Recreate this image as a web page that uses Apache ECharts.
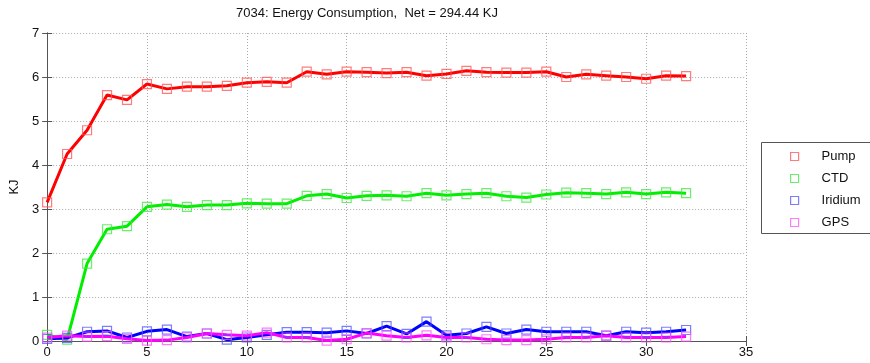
<!DOCTYPE html>
<html>
<head>
<meta charset="utf-8">
<script src="https://cdn.jsdelivr.net/npm/echarts@6/dist/echarts.min.js"></script>
<style>html,body{margin:0;padding:0;background:#fff;}#c{width:870px;height:363px;}</style>
</head>
<body>
<div id="c"></div>
<script>
const xValues = [0,1,2,3,4,5,6,7,8,9,10,11,12,13,14,15,16,17,18,19,20,21,22,23,24,25,26,27,28,29,30,31,32];
const pump = [3.15,4.25,4.79,5.59,5.48,5.84,5.73,5.78,5.78,5.80,5.87,5.89,5.87,6.12,6.06,6.12,6.11,6.09,6.11,6.03,6.07,6.14,6.11,6.10,6.10,6.12,6.00,6.06,6.03,6.00,5.96,6.03,6.02];
const ctd = [0.14,0.03,1.76,2.54,2.61,3.05,3.10,3.05,3.09,3.09,3.13,3.12,3.12,3.30,3.34,3.25,3.30,3.31,3.29,3.36,3.31,3.34,3.36,3.29,3.26,3.33,3.37,3.36,3.34,3.38,3.34,3.38,3.36];
const iridium = [0.05,0.07,0.21,0.23,0.08,0.22,0.26,0.10,0.17,0.03,0.08,0.14,0.20,0.20,0.19,0.23,0.17,0.34,0.16,0.44,0.13,0.17,0.32,0.17,0.26,0.21,0.21,0.21,0.12,0.21,0.19,0.21,0.25];
const gps = [0.08,0.12,0.10,0.11,0.05,0.01,0.02,0.08,0.17,0.14,0.12,0.19,0.08,0.08,0.01,0.04,0.18,0.12,0.08,0.13,0.08,0.08,0.04,0.02,0.02,0.04,0.08,0.08,0.12,0.08,0.08,0.08,0.10];
const seriesNames = ['Pump','CTD','Iridium','GPS'];
const xTicks = {min:0, max:35, interval:5};
const yTicks = {min:0, max:7, interval:1};
const titleText = '7034: Energy Consumption,  Net = 294.44 KJ';
const yName = 'KJ';

const lineColors = ['#ff0000','#00ee00','#0000ff','#ff00ff'];
const markColors = ['rgba(255,80,80,0.75)','rgba(60,230,60,0.75)','rgba(80,80,255,0.75)','rgba(255,80,255,0.75)'];
const allData = [pump, ctd, iridium, gps];
const font = 'Liberation Sans, Arial, Helvetica, sans-serif';

const chart = echarts.init(document.getElementById('c'));
const frameLine = {show:true, lineStyle:{color:'#555', width:1}};
const dotted = {show:true, lineStyle:{color:'#aaa', type:[1,2], width:1}};
chart.setOption({
  animation:false,
  backgroundColor:'#fff',
  title:{text:titleText, left:231, top:2, textStyle:{fontFamily:font, fontSize:13, fontWeight:'normal', color:'#111'}},
  graphic:[{type:'rect', shape:{x:761.5, y:142.5, width:130, height:91}, style:{fill:'none', stroke:'#555', lineWidth:1}, silent:true}],
  legend:{
    orient:'vertical', left:761, top:142,
    padding:[8,10,8,29], itemGap:9, itemWidth:8, itemHeight:8,
    icon:'rect',
    textStyle:{fontFamily:font, fontSize:13, color:'#111', padding:[0,0,0,18]},
    data: seriesNames.map((n,i)=>({name:n, itemStyle:{color:'transparent', borderColor:markColors[i], borderWidth:1.2}}))
  },
  grid:{left:43, right:124, top:33, bottom:22, containLabel:false},
  xAxis:[
    {type:'value', min:xTicks.min, max:xTicks.max, interval:xTicks.interval,
     axisLine:frameLine, axisTick:{show:true, inside:true, length:5, lineStyle:{color:'#555'}},
     axisLabel:{fontFamily:font, fontSize:13, color:'#111', margin:5},
     splitLine:dotted},
    {type:'value', position:'top', min:xTicks.min, max:xTicks.max, interval:xTicks.interval,
     axisLine:frameLine, axisTick:{show:true, inside:true, length:5, lineStyle:{color:'#555'}},
     axisLabel:{show:false}, splitLine:{show:false}}
  ],
  yAxis:[
    {type:'value', min:yTicks.min, max:yTicks.max, interval:yTicks.interval,
     name:yName, nameLocation:'middle', nameGap:22, nameTextStyle:{fontFamily:font, fontSize:13, color:'#111'},
     axisLine:frameLine, axisTick:{show:true, inside:true, length:5, lineStyle:{color:'#555'}},
     axisLabel:{fontFamily:font, fontSize:13, color:'#111', margin:8},
     splitLine:dotted},
    {type:'value', position:'right', min:yTicks.min, max:yTicks.max, interval:yTicks.interval,
     axisLine:frameLine, axisTick:{show:true, inside:true, length:5, lineStyle:{color:'#555'}},
     axisLabel:{show:false}, splitLine:{show:false}}
  ],
  series: seriesNames.map((n,i)=>({
    name:n, type:'line', xAxisIndex:0, yAxisIndex:0,
    data: xValues.map((x,j)=>[x, allData[i][j]]),
    symbol:'rect', symbolSize:9, showSymbol:true,
    lineStyle:{color:lineColors[i], width:3},
    itemStyle:{color:'transparent', borderColor:markColors[i], borderWidth:1.2},
    emphasis:{disabled:true}
  }))
});
</script>
</body>
</html>
